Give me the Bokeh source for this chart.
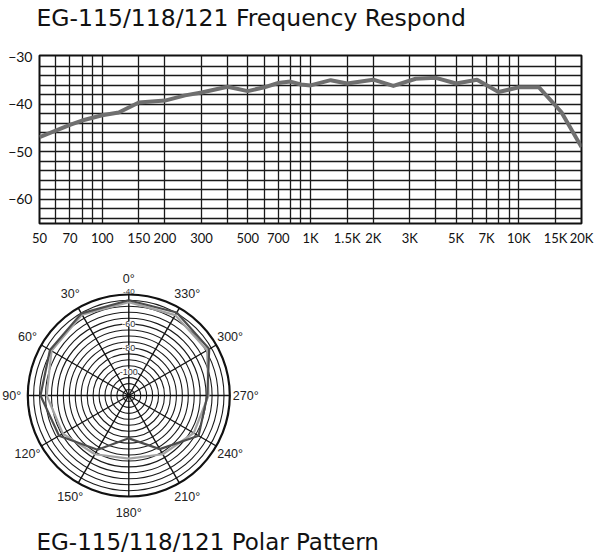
import numpy as np
from bokeh.plotting import figure
from bokeh.models import FixedTicker, Range1d
from bokeh.embed import file_html
from bokeh.resources import INLINE
from bokeh.core.properties import value

# ---------------- frequency response data ----------------
freq_hz = [50, 70, 80, 100, 120, 150, 200, 250, 300, 400, 500, 600, 700, 800, 900,
           1000, 1250, 1500, 2000, 2500, 3200, 4000, 5000, 6300, 8000, 10000, 12500, 16000, 20000]
resp_db = [-46.9, -44.3, -43.4, -42.3, -41.7, -39.6, -39.2, -38.1, -37.5, -36.3, -37.2, -36.4, -35.5, -35.2, -35.8,
           -36.0, -34.9, -35.6, -34.8, -36.1, -34.6, -34.4, -35.6, -34.8, -37.4, -36.4, -36.4, -41.6, -49.0]

x_tick_vals = [50, 70, 100, 150, 200, 300, 500, 700, 1000, 1500, 2000, 3000, 5000, 7000, 10000, 15000, 20000]
x_tick_labels = ["50", "70", "100", "150", "200", "300", "500", "700", "1K", "1.5K", "2K", "3K",
                 "5K", "7K", "10K", "15K", "20K"]
x_grid_vals = [60, 70, 80, 90, 100, 150, 200, 300, 400, 500, 600, 700, 800, 900, 1000, 1500, 2000,
               3000, 4000, 5000, 6000, 7000, 8000, 9000, 10000, 15000]
y_tick_vals = [-30, -40, -50, -60]
y_tick_labels = ["\u221230", "\u221240", "\u221250", "\u221260"]
y_grid_vals = list(range(-64, -31, 2))

# ---------------- polar pattern data ----------------
polar_angles_deg = [0, 30, 60, 90, 120, 150, 180, 210, 240, 270, 300, 330]
polar_dark_db = [-40.0, -40.3, -43.5, -45.8, -52.3, -67.4, -84.0, -68.0, -52.3, -54.0, -42.0, -39.5]
polar_light_db = [-41.5, -41.5, -45.0, -51.0, -56.0, -63.0, -67.0, -63.0, -57.0, -53.0, -44.0, -42.0]
polar_ring_db = list(range(-115, -39, 5))
polar_ring_label_db = [-60, -80, -100]
polar_ring_label_text = ["-60", "-80", "-100"]
polar_top_ring_db = -40
polar_top_ring_text = "-40"
polar_angle_labels = ["0\u00b0", "30\u00b0", "60\u00b0", "90\u00b0", "120\u00b0", "150\u00b0",
                      "180\u00b0", "210\u00b0", "240\u00b0", "270\u00b0", "300\u00b0", "330\u00b0"]

title_top = "EG-115/118/121 Frequency Respond"
title_bottom = "EG-115/118/121 Polar Pattern"

W = 600

def bare_figure(height, xr, yr):
    f = figure(width=W, height=height, frame_width=W, frame_height=height,
               x_range=Range1d(*xr), y_range=Range1d(*yr),
               output_backend="svg", toolbar_location=None,
               min_border=0, min_border_left=0, min_border_right=0,
               min_border_top=0, min_border_bottom=0,
               x_axis_location=None, y_axis_location=None)
    f.grid.visible = False
    f.outline_line_color = None
    return f

# ================= title strip =================
t = bare_figure(36, (0, W), (0, 36))
t.text(x=[36], y=[18.5], text=[title_top], text_font=value("DejaVu Sans"), text_font_size="23.5px",
       text_color="#111111", text_baseline="middle", text_align="left")

# ================= frequency response =================
p = figure(width=W, height=214, x_axis_type="log",
           x_range=Range1d(50, 20000), y_range=Range1d(-65.1, -29.7),
           output_backend="svg", toolbar_location=None,
           frame_width=542, frame_height=168,
           min_border_left=39, min_border_right=19, min_border_top=19, min_border_bottom=27)

p.xaxis.ticker = FixedTicker(ticks=x_tick_vals)
p.xaxis.major_label_overrides = {v: s for v, s in zip(x_tick_vals, x_tick_labels)}
p.yaxis.ticker = FixedTicker(ticks=y_tick_vals)
p.yaxis.major_label_overrides = {v: s for v, s in zip(y_tick_vals, y_tick_labels)}
for ax in (p.xaxis, p.yaxis):
    ax.axis_line_color = None
    ax.major_tick_line_color = None
    ax.minor_tick_line_color = None
    ax.major_tick_out = 0
    ax.major_tick_in = 0
    ax.minor_tick_out = 0
    ax.major_label_text_font = "Lato"
    ax.major_label_text_color = "#111111"
p.xaxis.major_label_text_font_size = "13px"
p.yaxis.major_label_text_font_size = "14px"
p.xaxis.major_label_standoff = 6
p.yaxis.major_label_standoff = 7

p.xgrid.ticker = FixedTicker(ticks=x_grid_vals)
p.ygrid.ticker = FixedTicker(ticks=y_grid_vals)
for g in (p.xgrid, p.ygrid):
    g.grid_line_color = "#1a1a1a"
    g.grid_line_width = 1.3
    g.grid_line_alpha = 1
p.outline_line_color = "#111111"
p.outline_line_width = 2

p.line(freq_hz, resp_db, line_color="#6f6f6f", line_width=4, line_join="round")

# ================= polar pattern =================
R_OUT = 101.0
K = 1.19          # pixels per dB
DB0 = -120.0      # dB at the centre
LBL_R = 117.0

q = bare_figure(306, (-128.3, W - 128.3), (-161, 145))

ring_r = [K * (d - DB0) for d in polar_ring_db]
q.circle(x=[0] * len(ring_r), y=[0] * len(ring_r), radius=ring_r,
         fill_color=None, line_color="#1a1a1a", line_width=1.1)
q.circle(x=[0], y=[0], radius=[R_OUT], fill_color=None, line_color="#111111", line_width=2.2)

th = np.radians(polar_angles_deg)
q.segment(x0=[0] * len(th), y0=[0] * len(th), x1=list(-R_OUT * np.sin(th)), y1=list(R_OUT * np.cos(th)),
          line_color="#111111", line_width=1.4)

def polar_xy(db_list):
    r = K * (np.array(db_list + db_list[:1]) - DB0)
    a = np.radians(polar_angles_deg + polar_angles_deg[:1])
    return list(-r * np.sin(a)), list(r * np.cos(a))

lx, ly = polar_xy(polar_light_db)
q.line(lx, ly, line_color="#a3a3a3", line_width=2.2)
dx, dy = polar_xy(polar_dark_db)
q.line(dx, dy, line_color="#4d4d4d", line_width=2.2)

rl_y = [K * (d - DB0) for d in polar_ring_label_db]
q.text(x=[0] * len(rl_y), y=rl_y, text=polar_ring_label_text,
       text_font=value("Liberation Sans"), text_font_size="9px", text_color="#333333",
       text_align="center", text_baseline="middle",
       background_fill_color="white")
q.text(x=[0], y=[K * (polar_top_ring_db - DB0)], text=[polar_top_ring_text],
       text_font=value("Liberation Sans"), text_font_size="8px", text_color="#333333",
       text_align="center", text_baseline="middle", y_offset=-9)

q.text(x=list(-LBL_R * np.sin(th)), y=list(LBL_R * np.cos(th)), text=polar_angle_labels,
       text_font=value("Liberation Sans"), text_font_size="12.5px", text_color="#222222",
       text_align="center", text_baseline="middle")

q.text(x=[-92.3], y=[-146], text=[title_bottom], text_font=value("DejaVu Sans"), text_font_size="23px",
       text_color="#111111", text_baseline="middle", text_align="left")

open("out.html", "w").write(file_html([t, p, q], INLINE))
